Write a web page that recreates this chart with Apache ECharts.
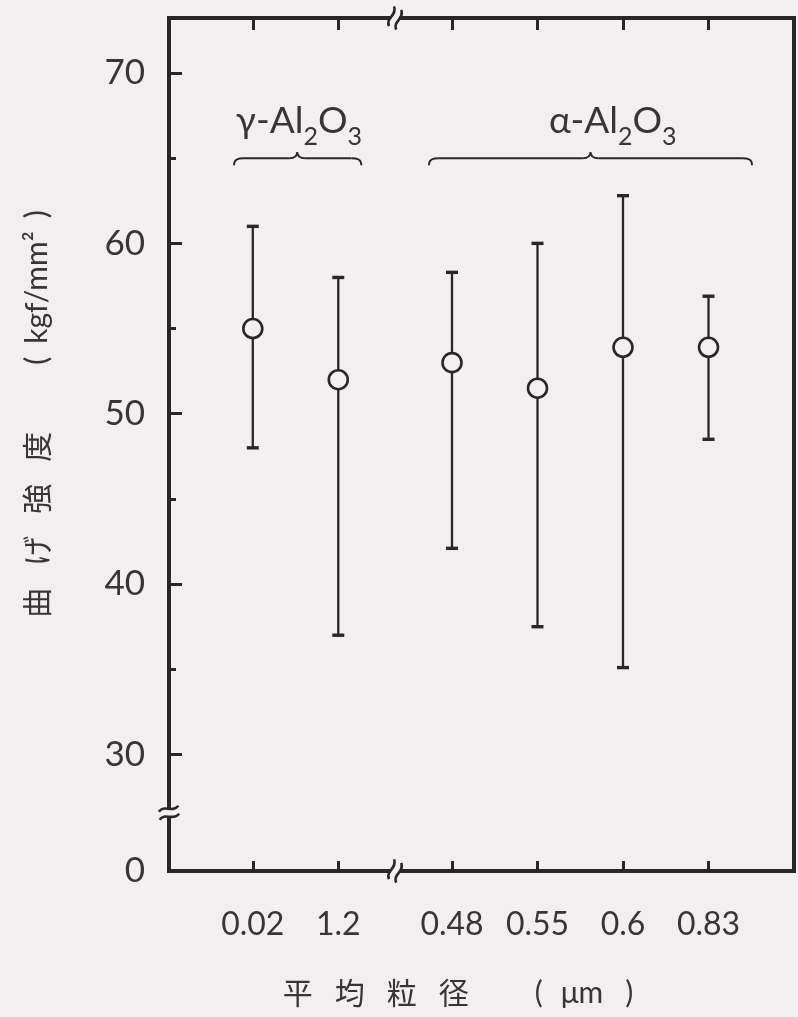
<!DOCTYPE html>
<html><head><meta charset="utf-8">
<script src="https://cdn.jsdelivr.net/npm/echarts@6/dist/echarts.min.js"></script>
<style>html,body{margin:0;padding:0;background:#f2eff0}#c{width:798px;height:1017px}</style>
</head><body><div id="c"></div>
<script>
// ---------- data ----------
const categories = ['0.02', '1.2', '0.48', '0.55', '0.6', '0.83'];
const phases = ['γ', 'γ', 'α', 'α', 'α', 'α'];
const meanStrength = [55.0, 52.0, 53.0, 51.5, 53.9, 53.9];
const maxStrength = [61.0, 58.0, 58.3, 60.0, 62.8, 56.9];
const minStrength = [48.0, 37.0, 42.1, 37.5, 35.1, 48.5];
const yMajorTicks = [30, 40, 50, 60, 70];
const yMinorTicks = [35, 45, 55, 65];
const yZeroLabel = '0';
const phaseNames = { 'γ': 'γ-Al', 'α': 'α-Al' };

// ---------- layout / style ----------
const GROUP_GAP = 0.33;
const X_MIN = -0.98, X_MAX = 6.33;
const Y_MIN = 23.16, Y_MAX = 73.23;
const INK = '#2c2528';
const TEXT = '#3a3337';
const BG = '#f2eff0';
const LATIN = 'Lato, "DejaVu Sans", sans-serif';
const CJK = '"Noto Sans CJK JP", "Noto Sans CJK SC", sans-serif';
const braceLayout = {
  'γ': { from: -0.22, to: 1.27, cusp: 0.52, textAt: 0.54 },
  'α': { from: 2.06, to: 5.84, cusp: 3.95, textAt: 4.21 }
};
const BRACE_Y = 65.0, LABEL_Y = 67.2;

const xPos = categories.map((c, i) => i + (phases[i] === 'α' ? GROUP_GAP : 0));
const yBreakValue = (Y_MIN + yMajorTicks[0]) / 2;
const xBreakValue = (xPos[1] + xPos[2]) / 2;

const chart = echarts.init(document.getElementById('c'), null, { renderer: 'canvas' });

function xLabel(v) {
  const i = xPos.findIndex(p => Math.abs(p - v) < 1e-6);
  return i >= 0 ? categories[i] : '';
}

const option = {
  backgroundColor: BG,
  animation: false,
  grid: { left: 169, right: 4, top: 18, bottom: 146, show: true, borderColor: INK, borderWidth: 4, backgroundColor: 'transparent' },
  xAxis: [
    {
      type: 'value', min: X_MIN, max: X_MAX, position: 'bottom',
      axisLine: { show: false, onZero: false }, splitLine: { show: false },
      axisTick: { show: true, inside: true, length: 10, customValues: xPos, lineStyle: { color: INK, width: 3 } },
      axisLabel: { customValues: xPos, formatter: xLabel, margin: 38, fontSize: 32, color: TEXT, fontFamily: LATIN, fontWeight: 400 }
    },
    {
      type: 'value', min: X_MIN, max: X_MAX, position: 'top',
      axisLine: { show: false, onZero: false }, splitLine: { show: false },
      axisTick: { show: true, inside: true, length: 12, customValues: xPos, lineStyle: { color: INK, width: 3 } },
      axisLabel: { show: false }
    }
  ],
  yAxis: [
    {
      type: 'value', min: Y_MIN, max: Y_MAX, position: 'left',
      axisLine: { show: false, onZero: false }, splitLine: { show: false },
      axisTick: { show: true, inside: true, length: 13, customValues: yMajorTicks, lineStyle: { color: INK, width: 3 } },
      axisLabel: {
        customValues: [Y_MIN].concat(yMajorTicks),
        formatter: v => (v < yMajorTicks[0] ? yZeroLabel : String(v)),
        margin: 24, fontSize: 35, color: TEXT, fontFamily: LATIN, fontWeight: 400
      }
    },
    {
      type: 'value', min: Y_MIN, max: Y_MAX, position: 'left',
      axisLine: { show: false, onZero: false }, splitLine: { show: false },
      axisTick: { show: true, inside: true, length: 7, customValues: yMinorTicks, lineStyle: { color: INK, width: 3 } },
      axisLabel: { show: false }
    }
  ],
  series: [
    {
      type: 'custom',
      xAxisIndex: 0, yAxisIndex: 0,
      data: categories.map((c, i) => [xPos[i], minStrength[i], maxStrength[i]]),
      encode: { x: 0, y: [1, 2] },
      z: 2,
      renderItem: (params, api) => {
        const x = api.value(0);
        const lo = api.coord([x, api.value(1)]);
        const hi = api.coord([x, api.value(2)]);
        const cap = 6;
        return {
          type: 'group', children: [
            { type: 'line', shape: { x1: lo[0], y1: lo[1], x2: hi[0], y2: hi[1] }, style: { stroke: INK, lineWidth: 2.3 } },
            { type: 'line', shape: { x1: hi[0] - cap, y1: hi[1], x2: hi[0] + cap, y2: hi[1] }, style: { stroke: INK, lineWidth: 3.4 } },
            { type: 'line', shape: { x1: lo[0] - cap, y1: lo[1], x2: lo[0] + cap, y2: lo[1] }, style: { stroke: INK, lineWidth: 3.4 } }
          ]
        };
      }
    },
    {
      type: 'scatter',
      xAxisIndex: 0, yAxisIndex: 0,
      data: categories.map((c, i) => [xPos[i], meanStrength[i]]),
      symbol: 'circle', symbolSize: 19, z: 3,
      itemStyle: { color: BG, borderColor: INK, borderWidth: 2.6, opacity: 1 }
    }
  ]
};

chart.setOption(option);

// ---------- decorations derived from axis scales ----------
const px = (x, y) => chart.convertToPixel({ xAxisIndex: 0, yAxisIndex: 0 }, [x, y]);
const gl = (extra) => Object.assign({ z: 100 }, extra);

function breakMark(cx, cy, rot) {
  const st = { stroke: INK, lineWidth: 2.6, fill: null };
  return {
    type: 'group', x: cx, y: cy, rotation: rot, z: 100, children: [
      gl({ type: 'rect', shape: { x: -5, y: -3.5, width: 10, height: 7 }, style: { fill: BG } }),
      gl({ type: 'bezierCurve', shape: { x1: -10, y1: -2, cpx1: -4, cpy1: -9, cpx2: 3, cpy2: 1, x2: 10, y2: -6 }, style: st }),
      gl({ type: 'bezierCurve', shape: { x1: -10, y1: 6, cpx1: -4, cpy1: -1, cpx2: 3, cpy2: 9, x2: 10, y2: 2 }, style: st })
    ]
  };
}

function brace(x0, xm, x1, y) {
  const st = { stroke: INK, lineWidth: 1.9, fill: null };
  return [
    gl({ type: 'bezierCurve', shape: { x1: x0, y1: y + 7, cpx1: x0, cpy1: y + 1, cpx2: x0 + 4, cpy2: y, x2: x0 + 10, y2: y }, style: st }),
    gl({ type: 'line', shape: { x1: x0 + 10, y1: y, x2: xm - 8, y2: y }, style: st }),
    gl({ type: 'bezierCurve', shape: { x1: xm - 8, y1: y, cpx1: xm - 3, cpy1: y, cpx2: xm, cpy2: y - 2, x2: xm, y2: y - 6 }, style: st }),
    gl({ type: 'bezierCurve', shape: { x1: xm, y1: y - 6, cpx1: xm, cpy1: y - 2, cpx2: xm + 3, cpy2: y, x2: xm + 8, y2: y }, style: st }),
    gl({ type: 'line', shape: { x1: xm + 8, y1: y, x2: x1 - 10, y2: y }, style: st }),
    gl({ type: 'bezierCurve', shape: { x1: x1 - 10, y1: y, cpx1: x1 - 4, cpy1: y, cpx2: x1, cpy2: y + 1, x2: x1, y2: y + 7 }, style: st })
  ];
}

const graphics = [];
const leftX = px(X_MIN, Y_MIN)[0];
const bottomY = px(X_MIN, Y_MIN)[1];
const topY = px(X_MIN, Y_MAX)[1];
const bx = px(xBreakValue, Y_MIN)[0];
graphics.push(breakMark(leftX, px(X_MIN, yBreakValue)[1], 0.1));
graphics.push(breakMark(bx, bottomY, Math.PI / 2 - 0.45));
graphics.push(breakMark(bx, topY, Math.PI / 2 - 0.45));

const richMain = { fontSize: 37, fontFamily: LATIN, fontWeight: 400, fill: TEXT, color: TEXT, lineHeight: 40 };
const richSub = { fontSize: 25, fontFamily: LATIN, fontWeight: 400, fill: TEXT, color: TEXT, lineHeight: 24, padding: [32, 0, 0, 0] };
Object.keys(braceLayout).forEach(ph => {
  const b = braceLayout[ph];
  const yb = px(0, BRACE_Y)[1];
  graphics.push(...brace(px(b.from, 0)[0], px(b.cusp, 0)[0], px(b.to, 0)[0], yb));
  const p = px(b.textAt, LABEL_Y);
  graphics.push(gl({
    type: 'text', x: p[0], y: p[1],
    style: {
      text: '{m|' + phaseNames[ph] + '}{s|2}{m|O}{s|3}',
      rich: { m: richMain, s: richSub },
      textAlign: 'center', align: 'center', textVerticalAlign: 'middle', verticalAlign: 'middle'
    }
  }));
});

// axis titles
const cj = { fontSize: 30, fontFamily: CJK, fill: TEXT, color: TEXT, width: 52, align: 'left' };
const la = { fontSize: 30, fontFamily: LATIN, fontWeight: 400, fill: TEXT, color: TEXT };
graphics.push(gl({
  type: 'text', x: 37, y: 414, rotation: Math.PI / 2,
  style: {
    text: '{c|曲}{c|げ}{c|強}{c|度}{g|}{p|(}{h|}{t|kgf/mm²}{h|}{p|)}',
    rich: { c: cj, g: { width: 45 }, p: la, h: { width: 13 }, t: la },
    textAlign: 'center', align: 'center', textVerticalAlign: 'middle', verticalAlign: 'middle'
  }
}));
graphics.push(gl({
  type: 'text', x: 458, y: 993,
  style: {
    text: '{c|平}{c|均}{c|粒}{c|径}{g|}{p|(}{h|}{t|μm}{h2|}{p|)}',
    rich: { c: cj, g: { width: 44 }, p: la, h: { width: 18 }, h2: { width: 22 }, t: la },
    textAlign: 'center', align: 'center', textVerticalAlign: 'middle', verticalAlign: 'middle'
  }
}));

chart.setOption({ graphic: graphics });
</script></body></html>
